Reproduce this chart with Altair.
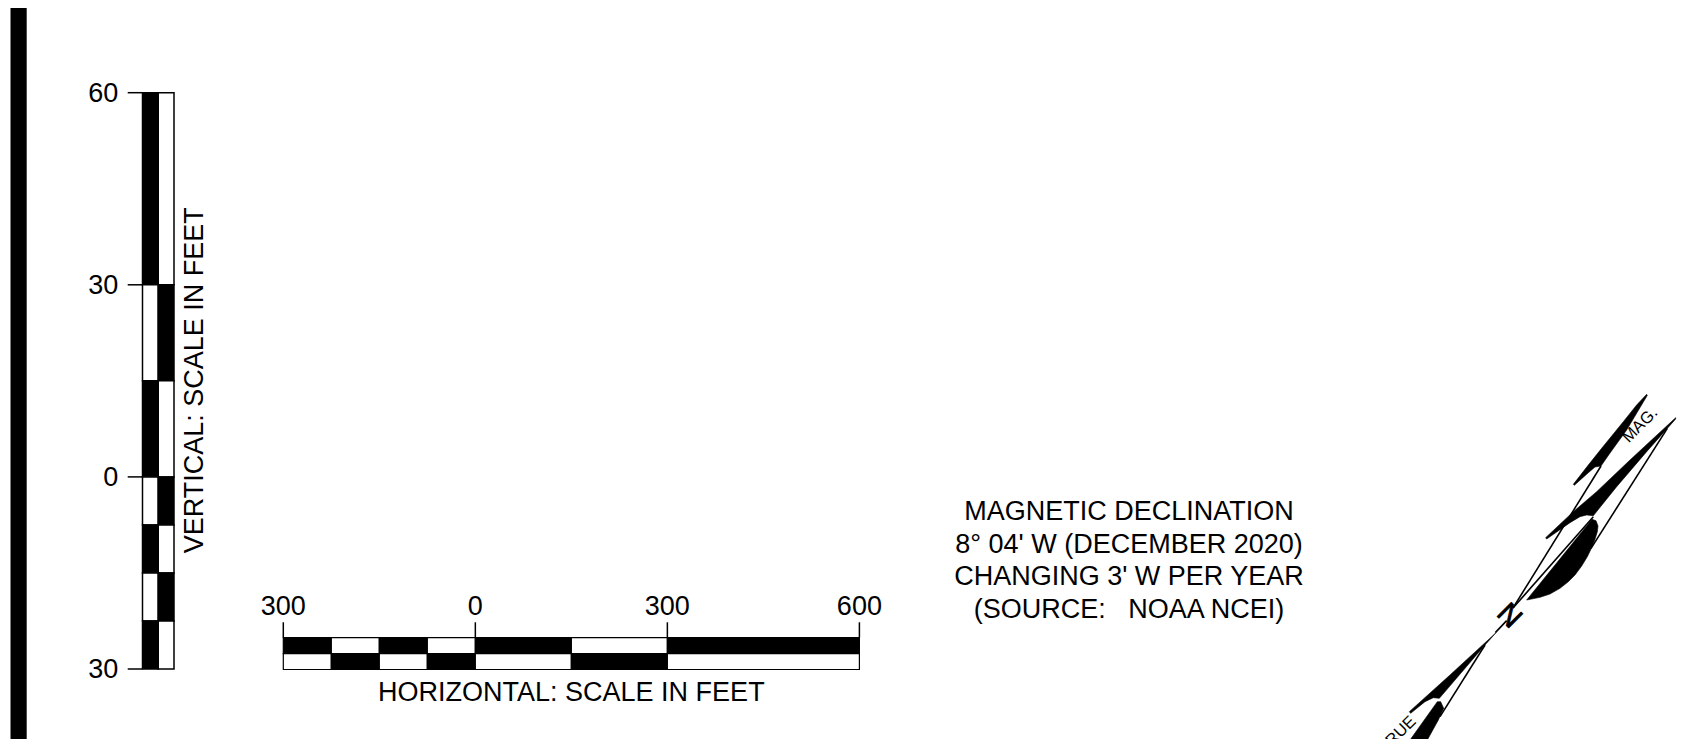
import altair as alt
import pandas as pd

FONT = "Liberation Sans"
FS = 27

# ---- vertical scale (feet)
v_edges = [60, 30, 15, 0, -7.5, -15, -22.5, -30]
v_left_black = [True, False, True, False, True, False, True]
v_ticks = [60, 30, 0, -30]
v_labels = ["60", "30", "0", "30"]

# ---- horizontal scale (feet)
h_edges = [-300, -225, -150, -75, 0, 150, 300, 600]
h_top_black = [True, False, True, False, True, False, True]
h_ticks = [-300, 0, 300, 600]
h_labels = ["300", "0", "300", "600"]

decl_lines = ["MAGNETIC DECLINATION", "8° 04' W (DECEMBER 2020)",
              "CHANGING 3' W PER YEAR", "(SOURCE:\u00a0\u00a0\u00a0NOAA NCEI)"]
decl_y = [520, 552.5, 585, 617.5]
decl_x = 1129

# ---- compass outline
barb_mag = [(350,43),(320,75),(280,125),(215,205),(175,255),(130,313),(133,316),(175,278),(195,261),(213,258),(238,222),(290,150),(352,46)]
barb_needle = [(437,113),(300,240),(200,335),(130,395),(47,473),(50,477),(120,428),(150,410),(170,405),(190,407),(260,320),(350,215),(437,117)]
lobe = [(-10,660),(30,652),(60,642),(90,625),(115,605),(135,585),(155,558),(172,530),(185,503),(195,478),(202,455),(204,438),(198,422),(186,418)]
lines_n = [[(213,258),(-51,684)], [(190,410),(-51,684)], [(412,145),(183,505)]]
wedge = [(438,98),(300,225),(178,335),(182,340),(225,305),(250,293),(268,295),(405,135)]
lower = [(180,420),(262,305),(272,305),(281,325),(265,360),(232,420)]
lines_s = [[(405,135),(270,350)], [(470,62),(436,98)]]

def north(p):
    return (1530 + p[0] / 3, 380 + p[1] / 3)

def south(p):
    return (1350 + p[0] / 3, 600 + p[1] / 3)

polys = []
for name, pts, fn in [("a", barb_mag, north), ("b", barb_needle, north), ("c", lobe, north),
                      ("d", wedge, south), ("e", lower, south)]:
    for i, p in enumerate(pts):
        x, y = fn(p)
        polys.append({"id": name, "i": i, "x": x, "y": y})
poly_df = pd.DataFrame(polys)

segs = []
for k, s in enumerate(lines_n):
    for i, p in enumerate(s):
        x, y = north(p)
        segs.append({"id": f"n{k}", "i": i, "x": x, "y": y})
for k, s in enumerate(lines_s):
    for i, p in enumerate(s):
        x, y = south(p)
        segs.append({"id": f"s{k}", "i": i, "x": x, "y": y})
seg_df = pd.DataFrame(segs)

# ---- scales
PX = alt.Scale(domain=[8, 1687], range=[0, 1679], nice=False, zero=False)
PY = alt.Scale(domain=[8, 739], range=[0, 731], nice=False, zero=False)
VFT = alt.Scale(domain=[-30, 60], range=[661, 84.7], nice=False, zero=False)
VLANE = alt.Scale(domain=[0, 2], range=[134.5, 166], nice=False, zero=False)
HFT = alt.Scale(domain=[-300, 600], range=[275.3, 851.4], nice=False, zero=False)
HLANE = alt.Scale(domain=[0, 2], range=[629.7, 661.5], nice=False, zero=False)

def q(field, scale):
    return alt.X(field, type="quantitative", scale=scale, axis=None)

def r(field, scale):
    return alt.Y(field, type="quantitative", scale=scale, axis=None)

# vertical bar cells
vc = []
for i in range(7):
    for lane in (0, 1):
        black = v_left_black[i] == (lane == 0)
        vc.append({"a": v_edges[i], "b": v_edges[i + 1], "l": lane, "l2": lane + 1,
                   "c": "black" if black else "white"})
v_cells = alt.Chart(pd.DataFrame(vc)).mark_rect(stroke="black", strokeWidth=1.5).encode(
    x=q("l", VLANE), x2="l2", y=r("a", VFT), y2="b",
    fill=alt.Fill("c:N", scale=None))
v_tick_df = pd.DataFrame({"t": v_ticks, "lab": v_labels, "l": [-0.94] * 4, "l2": [0.0] * 4, "tl": [-1.54] * 4})
v_tick = alt.Chart(v_tick_df).mark_rule(color="black", strokeWidth=1.5).encode(
    x=q("l", VLANE), x2="l2", y=r("t", VFT))
v_text = alt.Chart(v_tick_df).mark_text(font=FONT, fontSize=FS, align="right", baseline="middle", color="black", dy=1).encode(
    x=q("tl", VLANE), y=r("t", VFT), text="lab:N")
v_title = alt.Chart(pd.DataFrame({"t": [15.1], "l": [3.31], "s": ["VERTICAL: SCALE IN FEET"]})).mark_text(
    font=FONT, fontSize=FS, angle=270, align="center", baseline="middle", color="black").encode(
    x=q("l", VLANE), y=r("t", VFT), text="s:N")

# horizontal bar cells
hc = []
for i in range(7):
    for lane in (0, 1):
        black = h_top_black[i] == (lane == 0)
        hc.append({"a": h_edges[i], "b": h_edges[i + 1], "l": lane, "l2": lane + 1,
                   "c": "black" if black else "white"})
h_cells = alt.Chart(pd.DataFrame(hc)).mark_rect(stroke="black", strokeWidth=1.2).encode(
    x=q("a", HFT), x2="b", y=r("l", HLANE), y2="l2",
    fill=alt.Fill("c:N", scale=None))
h_tick_df = pd.DataFrame({"t": h_ticks, "lab": h_labels, "l": [-0.97] * 4, "l2": [0.0] * 4, "tl": [-1.42] * 4})
h_tick = alt.Chart(h_tick_df).mark_rule(color="black", strokeWidth=1.5).encode(
    x=q("t", HFT), y=r("l", HLANE), y2="l2")
h_text = alt.Chart(h_tick_df).mark_text(font=FONT, fontSize=FS, align="center", baseline="alphabetic", color="black").encode(
    x=q("t", HFT), y=r("tl", HLANE), text="lab:N")
h_title = alt.Chart(pd.DataFrame({"t": [150], "l": [3.46], "s": ["HORIZONTAL: SCALE IN FEET"]})).mark_text(
    font=FONT, fontSize=FS, align="center", baseline="middle", color="black").encode(
    x=q("t", HFT), y=r("l", HLANE), text="s:N")

# page-level marks
band = alt.Chart(pd.DataFrame({"x": [10.5], "x2": [26.7], "y": [8], "y2": [739]})).mark_rect(color="black").encode(
    x=q("x", PX), x2="x2", y=r("y", PY), y2="y2")
decl = alt.Chart(pd.DataFrame({"x": [decl_x] * 4, "y": decl_y, "s": decl_lines})).mark_text(
    font=FONT, fontSize=FS, align="center", baseline="alphabetic", color="black").encode(
    x=q("x", PX), y=r("y", PY), text="s:N")
shapes = alt.Chart(poly_df).mark_line(fill="black", stroke="black", strokeWidth=0.6, interpolate="linear-closed").encode(
    x=q("x", PX), y=r("y", PY), detail="id:N", order="i:Q")
thin = alt.Chart(seg_df).mark_line(stroke="black", strokeWidth=1.6).encode(
    x=q("x", PX), y=r("y", PY), detail="id:N", order="i:Q")
labels = pd.DataFrame({"x": [1640, 1397.3, 1509.3], "y": [425, 734.7, 615.7], "s": ["MAG.", "TRUE", "N"],
                       "size": [16.5, 16.5, 29], "a": [315, 315, 45], "sw": [0.0, 0.0, 0.9]})
lab_layers = []
for _, row in labels.iterrows():
    lab_layers.append(alt.Chart(pd.DataFrame([row.to_dict()])).mark_text(
        font=FONT, fontSize=float(row["size"]), angle=int(row["a"]), align="center", baseline="middle",
        color="black", stroke="black", strokeWidth=float(row["sw"])).encode(
        x=q("x", PX), y=r("y", PY), text="s:N"))

chart = alt.layer(
    band, v_cells, v_tick, v_text, v_title, h_cells, h_tick, h_text, h_title,
    decl, shapes, thin, *lab_layers
).resolve_scale(x="independent", y="independent").properties(
    width=1679, height=731, padding=0, autosize=alt.AutoSizeParams(type="none"), background="white"
).configure_view(stroke=None)

chart.save("out.html", embed_options={"renderer": "svg", "actions": False})
